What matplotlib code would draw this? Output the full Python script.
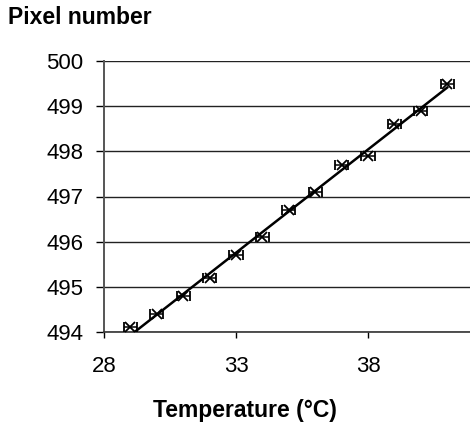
import numpy as np
import matplotlib.pyplot as plt

plt.rcParams['font.family'] = ['Liberation Sans', 'DejaVu Sans']

# temperature (deg C) and measured pixel position
temperature = [29, 30, 31, 32, 33, 34, 35, 36, 37, 38, 39, 40, 41]
pixel = [494.1, 494.4, 494.8, 495.2, 495.7, 496.1, 496.7,
         497.1, 497.7, 497.9, 498.6, 498.9, 499.5]
temp_err = 0.25

x_ticks = [28, 33, 38]
y_ticks = [494, 495, 496, 497, 498, 499, 500]

fig = plt.figure(figsize=(4.7, 4.24), dpi=100)
ax = fig.add_axes([104 / 470, 92 / 424, 396 / 470, 271 / 424])

# linear fit
coef = np.polyfit(temperature, pixel, 1)
xfit = np.array([temperature[0], temperature[-1]])
ax.plot(xfit, np.polyval(coef, xfit), color='black', lw=1.8, zorder=3)

ax.errorbar(temperature, pixel, xerr=temp_err, fmt='x', color='black',
            ms=7, mew=1.3, elinewidth=1.1, capsize=3.5, capthick=1.1, zorder=4)

ax.set_xlim(28, 43)
ax.set_ylim(494, 500)
ax.set_xticks(x_ticks)
ax.set_yticks(y_ticks)
ax.yaxis.grid(True, color='#222222', lw=1.0)
ax.set_axisbelow(True)

for s in ['top', 'right']:
    ax.spines[s].set_visible(False)
ax.spines['left'].set_color('#555555')
ax.spines['left'].set_linewidth(1.4)
ax.spines['bottom'].set_color('#333333')
ax.spines['bottom'].set_linewidth(1.2)

ax.tick_params(axis='y', direction='out', length=6, width=1, pad=9, labelsize=16)
ax.tick_params(axis='x', direction='out', length=4, width=1, pad=13, labelsize=16)

fig.text(245 / 470, 1 - 410 / 424, 'Temperature (\u00b0C)', fontsize=16.5,
         fontweight='bold', ha='center', va='center')
fig.text(8 / 470, 1 - 18 / 424, 'Pixel number', fontsize=16.5, fontweight='bold',
         ha='left', va='center')

fig.savefig('out.png', dpi=100)
